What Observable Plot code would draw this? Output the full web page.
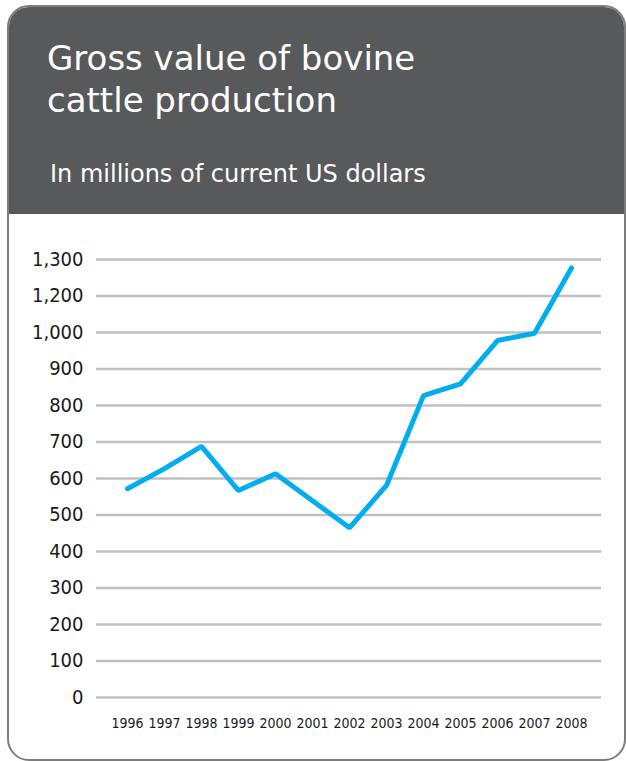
<!DOCTYPE html>
<html>
<head>
<meta charset="utf-8">
<script src="https://cdn.jsdelivr.net/npm/d3@7"></script>
<script src="https://cdn.jsdelivr.net/npm/@observablehq/plot@0.6"></script>
<style>
  html, body { margin: 0; padding: 0; background: #fff; }
  body { width: 626px; height: 761px; position: relative; overflow: hidden;
         font-family: "DejaVu Sans", sans-serif; }
  #card { position: absolute; left: 7px; top: 5px; width: 619px; height: 756px; box-sizing: border-box;
          border: 2px solid #7d7d7d; border-radius: 22px; overflow: hidden; background: #fff; }
  #header { position: absolute; left: 0; top: 0; right: 0; height: 207px; background: #58595b; }
  #title { position: absolute; left: 38px; top: 30px; color: #fff; font-size: 34px; line-height: 42px; margin: 0; font-weight: normal; white-space: nowrap; }
  #subtitle { position: absolute; left: 41px; top: 153px; color: #fff; font-size: 24px; margin: 0; white-space: nowrap; }
  #chart { position: absolute; left: 0; top: 213px; }
</style>
</head>
<body>
<div id="card">
  <div id="header">
    <div id="title">Gross value of bovine<br>cattle production</div>
    <div id="subtitle">In millions of current US dollars</div>
  </div>
</div>
<div id="chart"></div>
<script>
const years = [1996, 1997, 1998, 1999, 2000, 2001, 2002, 2003, 2004, 2005, 2006, 2007, 2008];
const values = [572, 627, 688, 567, 613, 539, 465, 581, 827, 859, 978, 998, 1177];
const yTicks = [0, 100, 200, 300, 400, 500, 600, 700, 800, 900, 1000, 1100, 1200];
const yTickLabels = ["0", "100", "200", "300", "400", "500", "600", "700", "800", "900", "1,000", "1,200", "1,300"];

const data = years.map((y, i) => ({year: y, value: values[i]}));

const plot = Plot.plot({
  width: 626,
  height: 540,
  marginTop: 46,
  marginBottom: 56,
  marginLeft: 96,
  marginRight: 25,
  style: {fontFamily: '"DejaVu Sans Condensed", "DejaVu Sans", sans-serif', background: "transparent", overflow: "visible"},
  x: {type: "point", domain: years, padding: 0.73, label: null},
  y: {domain: [0, 1200], label: null},
  marks: [
    Plot.ruleY(yTicks, {stroke: "#c0c0c0", strokeWidth: 2.5}),
    Plot.axisY(yTicks, {tickSize: 0, tickPadding: 13, fontSize: 20, fill: "#1a1a1a",
      tickFormat: (d) => yTickLabels[yTicks.indexOf(d)], label: null}),
    Plot.axisX(years, {tickSize: 0, tickPadding: 21, fontSize: 14, fill: "#1a1a1a", tickFormat: d => String(d), label: null}),
    Plot.line(data, {x: "year", y: "value", stroke: "#00aeef", strokeWidth: 5, strokeLinejoin: "miter", strokeLinecap: "round"})
  ]
});
document.getElementById("chart").appendChild(plot);
</script>
</body>
</html>
